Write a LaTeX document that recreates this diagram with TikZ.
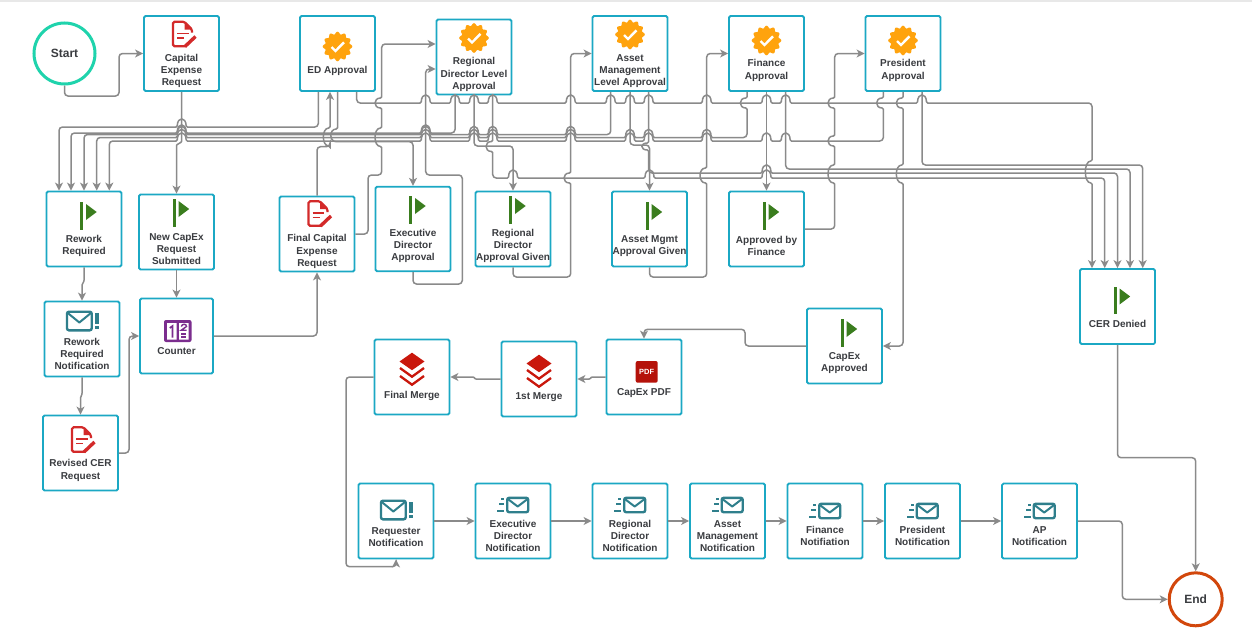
\documentclass[tikz,border=0pt]{standalone}
\usepackage{fontspec}
\setmainfont{Liberation Sans}
\usetikzlibrary{arrows.meta}
\definecolor{boxteal}{HTML}{1BA8C4}
\definecolor{startgreen}{HTML}{1FD3AC}
\definecolor{endorange}{HTML}{D2470C}
\definecolor{linegray}{HTML}{8A8A8A}
\definecolor{textdark}{HTML}{3A3C40}
\definecolor{flaggreen}{HTML}{3A7D1E}
\definecolor{badgeorange}{HTML}{FFA30D}
\definecolor{docred}{HTML}{D32A2A}
\definecolor{mailteal}{HTML}{2F7F8C}
\definecolor{countpurple}{HTML}{7B2D8E}
\definecolor{mergered}{HTML}{C9170C}
\definecolor{pdfred}{HTML}{B5120A}

% box with its caption
\newcommand{\taskbox}[5][]{%
  \node[stepbox,#1] (#2) at (#3) {};
  \node[steplabel]  (#2 label) at ([yshift=-#5pt]#2.center) {#4};
}
% line hops, horizontal lines go over, vertical lines go round to the left
\newcommand{\hopsright}[2]{\foreach \ax in {#2}{%
  [rounded corners=1.2pt] -- ({\ax-4.5},#1) .. controls ({\ax-4.2},#1-10.5) and ({\ax+4.2},#1-10.5) .. ({\ax+4.5},#1) [rounded corners=3.5pt]}}
\newcommand{\hopsleft}[2]{\foreach \ax in {#2}{%
  [rounded corners=1.2pt] -- ({\ax+4.5},#1) .. controls ({\ax+4.2},#1-10.5) and ({\ax-4.2},#1-10.5) .. ({\ax-4.5},#1) [rounded corners=3.5pt]}}
\newcommand{\bulge}[3]{[rounded corners=1.2pt] -- (#1,#2) .. controls (#1-8.5,#2) and (#1-8.5,#3) .. (#1,#3) [rounded corners=3.5pt]}

\newcommand{\flagicon}[2]{%
\begin{scope}[shift={([yshift=#2pt]#1.center)}]
  \fill[flaggreen] (-3.6,-13.7) rectangle (-1,13.7);
  \fill[flaggreen] (2,-12) -- (12.7,-4) -- (2,4) -- cycle;
\end{scope}
}
\newcommand{\badgeicon}[2]{%
\begin{scope}[shift={([yshift=#2pt]#1.center)}]
  \fill[badgeorange] plot[domain=0:360,samples=145]
      ({(13.6+1.2*cos(12*\x))*cos(\x)},{(13.6+1.2*cos(12*\x))*sin(\x)});
  \draw[white,line width=2.4pt] (-6,0.5) -- (-2,4.5) -- (6.5,-4.2);
\end{scope}
}
\newcommand{\docicon}[2]{%
\begin{scope}[shift={([yshift=#2pt]#1.center)}]
  \draw[docred,line width=2.2pt,rounded corners=1.5pt]
      (5,11.7) -- (-8.5,11.7) -- (-8.5,-12.7) -- (3,-12.7) -- (10.5,-5) -- (10.5,-2);
  \fill[docred] (3,-12.7) -- (3,-5) -- (10.5,-5) -- cycle;
  \draw[docred,line width=1.8pt] (-4.5,-1) -- (7,-1) (-4.5,3.5) -- (2.5,3.5);
  \draw[docred,line width=3.4pt] (3.5,12) -- (14,2);
\end{scope}
}
\newcommand{\envelope}[4]{%
  \draw[mailteal,line width=2.4pt,rounded corners=2pt] (#1,#2) rectangle (#3,#4);
  \draw[mailteal,line width=2pt,line join=round] (#1+1,#2+1.5) -- ({(#1+#3)/2},{(#2+#4)/2+1.5}) -- (#3-1,#2+1.5);
}
\newcommand{\alerticon}[2]{%
\begin{scope}[shift={([yshift=#2pt]#1.center)}]
  \envelope{-15}{-9.3}{9.7}{9.3}
  \fill[mailteal] (13.4,-8) rectangle (16.8,3);
  \fill[mailteal] (13.4,5) rectangle (16.8,8.4);
\end{scope}
}
\newcommand{\sendicon}[2]{%
\begin{scope}[shift={([yshift=#2pt]#1.center)}]
  \envelope{-5.8}{-7.2}{15.2}{7.2}
  \fill[mailteal] (-12,-7) rectangle (-8.8,-5);
  \fill[mailteal] (-14,-1.8) rectangle (-8.8,0.2);
  \fill[mailteal] (-16,4.6) rectangle (-8.8,6.6);
\end{scope}
}
\newcommand{\counticon}[2]{%
\begin{scope}[shift={([yshift=#2pt]#1.center)}]
  \fill[countpurple,rounded corners=2pt] (-12.5,-11) rectangle (15,11);
  \fill[white] (-9.5,-8) rectangle (0.2,8.5) (2.5,-8) rectangle (12.2,8.5);
  \draw[countpurple,line width=1.7pt] (-6.7,-3) -- (-4,-5) -- (-4,6.5);
  \draw[countpurple,line width=1.4pt] (4.8,-4.5) .. controls (5.5,-7.5) and (10,-7.5) .. (10,-4.5) -- (4.8,-0.8) -- (10,-0.8);
  \draw[countpurple,line width=1.4pt] (4.8,3) -- (9.8,3) (4.8,6) -- (9.8,6);
\end{scope}
}
\newcommand{\mergeicon}[2]{%
\begin{scope}[shift={([yshift=#2pt]#1.center)}]
  \fill[mergered] (0,-16.3) -- (12.5,-7.5) -- (0,1.2) -- (-12.5,-7.5) -- cycle;
  \draw[mergered,line width=2.3pt] (-12,-1) -- (0,7.7) -- (12,-1) (-12,7) -- (0,15.7) -- (12,7);
\end{scope}
}

\begin{document}
\begin{tikzpicture}[x=1pt,y=-1pt,
    stepbox/.style   = {draw=boxteal,
                        line width=1.8pt,
                        rounded corners=1.5pt,
                        fill=white,
                        minimum width=75pt,
                        minimum height=75pt,
                        inner sep=0pt},
    steplabel/.style = {text=textdark,
                        align=center,
                        inner sep=0pt,
                        font=\fontsize{10}{12.3}\selectfont\bfseries},
    endpoint/.style  = {circle,
                        fill=white,
                        inner sep=0pt,
                        text=textdark,
                        font=\fontsize{12}{14}\selectfont\bfseries},
    conn/.style      = {draw=linegray,
                        line width=1.5pt,
                        rounded corners=3.5pt,
                        -{Stealth[length=8pt,width=8pt,inset=2.2pt]}},
    jog/.style       = {rounded corners=0.6pt}]
  \useasboundingbox (0,0) rectangle (1252,632);
  \fill[black!9] (0,0) rectangle (1252,1.5);

  \node[endpoint,draw=startgreen,line width=3pt,minimum size=61pt] (start) at (64.5,53.5) {Start};
  \node[endpoint,draw=endorange,line width=3pt,minimum size=53pt]  (end)   at (1195.7,599.3) {End};

  \taskbox{capreq}{181.5,53.5}{Capital\\Expense\\Request}{17.5}
  \taskbox{edappr}{337.5,53.5}{ED Approval}{17.5}
  \taskbox{regappr}{474,57}{Regional\\Director Level\\Approval}{17.5}
  \taskbox{assetappr}{630,53.5}{Asset\\Management\\Level Approval}{17.5}
  \taskbox{finappr}{766.5,53.5}{Finance\\Approval}{17}
  \taskbox{presappr}{903,53.5}{President\\Approval}{17}

  \taskbox{rework}{84,229}{Rework\\Required}{17}
  \taskbox{newcapex}{176.5,232}{New CapEx\\Request\\Submitted}{17}
  \taskbox{finalcap}{317,234}{Final Capital\\Expense\\Request}{17.5}
  \taskbox[minimum height=84.5pt]{execgiven}{413,229}{Executive\\Director\\Approval}{17}
  \taskbox{reggiven}{513,229}{Regional\\Director\\Approval Given}{17}
  \taskbox{assetgiven}{649.5,229}{Asset Mgmt\\Approval Given}{17}
  \taskbox{fingiven}{766.5,229}{Approved by\\Finance}{17}
  \taskbox{denied}{1117.5,306.5}{CER Denied}{17.5}

  \taskbox{reworkmail}{82,339}{Rework\\Required\\Notification}{15}
  \taskbox[minimum width=73pt]{counter}{176.5,336}{Counter}{15}
  \taskbox{revised}{80.5,453}{Revised CER\\Request}{17.5}

  \taskbox{finalmerge}{412,377}{Final Merge}{19}
  \taskbox{firstmerge}{539,379}{1st Merge}{18}
  \taskbox{capexpdf}{644,377}{CapEx PDF}{16.3}
  \taskbox{capexok}{844.5,346}{CapEx\\Approved}{17}

  \taskbox{reqmail}{396,521}{Requester\\Notification}{16}
  \taskbox{execmail}{513,521}{Executive\\Director\\Notification}{15}
  \taskbox{regmail}{630,521}{Regional\\Director\\Notification}{15}
  \taskbox{assetmail}{727.5,521}{Asset\\Management\\Notification}{15}
  \taskbox{finmail}{825,521}{Finance\\Notifiation}{15}
  \taskbox{presmail}{922.5,521}{President\\Notification}{15}
  \taskbox{apmail}{1039.5,521}{AP\\Notification}{15}

  \docicon{capreq}{19}
  \docicon{finalcap}{20}
  \docicon{revised}{13}
  \badgeicon{edappr}{7}
  \badgeicon{regappr}{19}
  \badgeicon{assetappr}{19}
  \badgeicon{finappr}{13}
  \badgeicon{presappr}{13}
  \flagicon{rework}{13}
  \flagicon{newcapex}{19}
  \flagicon{execgiven}{19}
  \flagicon{reggiven}{19}
  \flagicon{assetgiven}{13}
  \flagicon{fingiven}{13}
  \flagicon{capexok}{13}
  \flagicon{denied}{6}
  \alerticon{reworkmail}{18}
  \alerticon{reqmail}{11}
  \counticon{counter}{5}
  \mergeicon{finalmerge}{8}
  \mergeicon{firstmerge}{8}
  \fill[pdfred,rounded corners=2pt] (635.7,361) rectangle (657.7,382.7);
  \node[inner sep=0pt,text=white,font=\fontsize{7.5}{8}\selectfont\bfseries] (pdfmark) at (646.7,372) {PDF};
  \sendicon{execmail}{16}
  \sendicon{regmail}{16}
  \sendicon{assetmail}{16}
  \sendicon{finmail}{10}
  \sendicon{presmail}{10}
  \sendicon{apmail}{10}

  % start and left column
  \draw[conn] (start.south) -- (64.5,96) -- (119,96) -- (119,53.5) -- (capreq.west);
  \draw[conn,jog] (capreq.south) -- (181.5,142) -- (176.5,145) -- (newcapex.north);
  \draw[conn] (newcapex.south) -- (counter.north);
  \draw[conn,jog] (rework.south) -- (84,281) -- (82,285) -- (reworkmail.north);
  \draw[conn,jog] (reworkmail.south) -- (82,394) -- (80.5,398) -- (revised.north);
  \draw[conn] (revised.east) -- (129,453) -- (129,336) -- (counter.west);
  \draw[conn] (counter.east) -- (317,336) -- (finalcap.south);

  % into the approvals
  \draw[conn] (finalcap.north) -- (317,146.7) -- (330,146.7) \bulge{330}{146}{128}
      -- ([xshift=-7.5pt]edappr.south);
  \draw[conn] (finalcap.east) -- (368,234) -- (368,175) -- (381.7,175) \bulge{381.7}{146.5}{128}
      \bulge{381.7}{108}{98} -- (381.7,44) -- ([yshift=13pt]regappr.west);
  \draw[conn] (execgiven.south) -- (413,284) -- (462.3,284) -- (462.3,175) -- (425.7,175)
      -- (425.7,69) -- ([yshift=-12pt]regappr.west);
  \draw[conn] (reggiven.south) -- (513,277) -- (570.7,277) \bulge{570.7}{183}{173}
      -- (570.7,53.5) -- (assetappr.west);
  \draw[conn] (assetgiven.south) -- (649.5,277) -- (706.7,277) \bulge{706.7}{183}{168}
      -- (706.7,53.5) -- (finappr.west);
  \draw[conn] (fingiven.east) -- (834.7,229) \bulge{834.7}{183}{165} \bulge{834.7}{146}{136}
      \bulge{834.7}{108}{98} -- (834.7,53.5) -- (presappr.west);

  % back to rework
  \draw[conn] ([xshift=-19.2pt]edappr.south) -- (318.3,127) \hopsleft{127}{181.7}
      -- (59,127) -- ([xshift=-25pt]rework.north);
  \draw[conn] ([xshift=-19pt]regappr.south) -- (455,133) \hopsleft{133}{425.7,181.7}
      -- (71,133) -- ([xshift=-13pt]rework.north);
  \draw[conn] ([xshift=-19.3pt]assetappr.south) -- (610.7,134.5)
      \hopsleft{134.5}{570.7,492.7,474,425.7,181.7} -- (84,134.5) -- (rework.north);
  \draw[conn] ([xshift=-19.5pt]finappr.south) \bulge{747}{98}{108} -- (747,137.5)
      \hopsleft{137.5}{706.7,648.6,630,570.7,492.7,474,425.7,181.7}
      -- (96.7,137.5) -- ([xshift=12.7pt]rework.north);
  \draw[conn] ([xshift=-19.7pt]presappr.south) \bulge{883.3}{98}{108} -- (883.3,141)
      \hopsleft{141}{785.7,766.5,706.7,648.6,630,570.7,492.7,474,425.7,181.7}
      -- (109.3,141) -- ([xshift=25.3pt]rework.north);

  % approval to its flag
  \draw[conn] (edappr.south) \bulge{337.5}{129}{141.7} -- (413,141.7) -- (execgiven.north);
  \draw[conn] (regappr.south) -- (474,146) -- (513,146) -- (reggiven.north);
  \draw[conn] (assetappr.south) -- (630,145) -- (649.5,145) -- (assetgiven.north);
  \draw[conn] (finappr.south) -- (fingiven.north);
  \draw[conn] (presappr.south) \bulge{903}{98}{108} \bulge{903}{165}{183} -- (903,346) -- (capexok.east);

  % on to denied
  \draw[conn] ([xshift=19.2pt]edappr.south) -- (356.7,103)
      \hopsright{103}{425.7,455,474,492.7,570.7,610.7,630,648.6,706.7,766.5,785.7,922}
      -- (1092,103) \bulge{1092}{161}{183} -- ([xshift=-25.5pt]denied.north);
  \draw[conn] ([xshift=18.7pt]regappr.south) \bulge{492.7}{141.5}{151.5} -- (492.7,178)
      \hopsright{178}{513,649.5,766.5} -- (1104.7,178) -- ([xshift=-12.8pt]denied.north);
  \draw[conn] ([xshift=18.6pt]assetappr.south) \bulge{648.6}{143}{150} -- (648.6,173)
      \hopsright{173}{766.5} -- (1117.5,173) -- (denied.north);
  \draw[conn] ([xshift=19.2pt]finappr.south) -- (785.7,169) -- (1130,169) -- ([xshift=12.5pt]denied.north);
  \draw[conn] ([xshift=19pt]presappr.south) -- (922,165) -- (1142.7,165) -- ([xshift=25.2pt]denied.north);

  % merge chain
  \draw[conn] (capexok.west) -- (745,346) -- (745,329.3) -- (644,329.3) -- (capexpdf.north);
  \draw[conn,jog] (capexpdf.west) -- (591.7,377) -- (589.7,379) -- (firstmerge.east);
  \draw[conn,jog] (firstmerge.west) -- (475.5,379) -- (473.5,377) -- (finalmerge.east);
  \draw[conn] (finalmerge.west) -- (346,377) -- (346,566.7) -- (396,566.7) -- (reqmail.south);

  % notifications
  \draw[conn] (reqmail.east) -- (execmail.west);
  \draw[conn] (execmail.east) -- (regmail.west);
  \draw[conn] (regmail.east) -- (assetmail.west);
  \draw[conn] (assetmail.east) -- (finmail.west);
  \draw[conn] (finmail.east) -- (presmail.west);
  \draw[conn] (presmail.east) -- (apmail.west);
  \draw[conn] (apmail.east) -- (1122.3,521) -- (1122.3,599.3) -- (end.west);
  \draw[conn] (denied.south) -- (1117.5,457.7) -- (1195.7,457.7) -- (end.north);
\end{tikzpicture}
\end{document}
